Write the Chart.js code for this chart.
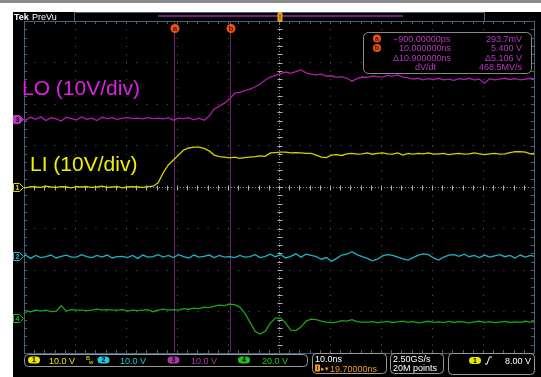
<!DOCTYPE html>
<html>
<head>
<meta charset="utf-8">
<script src="https://cdn.jsdelivr.net/npm/chart.js@4"></script>
<style>
  html, body { margin: 0; padding: 0; background: #fff; overflow: hidden; }
  canvas { display: block; }
</style>
</head>
<body>
<canvas id="scope" width="541" height="377"></canvas>
<script>
// time axis in ns (screen spans -30.3 .. 69.7 ns, 10 ns/div, delay 19.7 ns)
const timeNs = [-31,-30,-29,-28,-27,-26,-25,-24,-23,-22,-21,-20,-19,-18,-17,-16,-15,-14,-13,-12,
  -11,-10,-9,-8,-7,-6,-5,-4,-3,-2,-1,0,1,2,3,4,5,6,7,8,9,10,11,12,13,14,15,16,17,18,19,20,
  21,22,23,24,25,26,27,28,29,30,31,32,33,34,35,36,37,38,39,40,41,42,43,44,45,46,47,48,49,50,
  51,52,53,54,55,56,57,58,59,60,61,62,63,64,65,66,67,68,69,70];
const gridTimes = [-30.3,-20.3,-10.3,-0.3,9.7,19.7,29.7,39.7,49.7,59.7,69.7];
const cursorTimes = [-0.9, 10.0];

// channel 1 (LI), volts
const ch1Volts = [0.1,-0.2,0.1,0,-0.1,0.2,0,-0.1,0.1,0,-0.2,0.1,0,0.1,-0.1,0,0.2,-0.1,0,0.1,
  -0.2,0,0.1,0,-0.1,0.1,
  0.2,1.0,3.4,5.3,6.5,7.7,8.9,9.4,9.6,9.6,9.3,8.7,7.7,7.3,7.2,7.0,7.2,6.9,7.1,7.2,7.3,7.5,7.4,
  8.2,8.3,8.4,8.4,8.2,8.3,8.2,8.1,8.1,7.7,7.2,7.1,7.7,7.8,7.6,8.0,8.1,7.9,8.0,8.2,7.9,8.1,8.2,
  8.0,7.9,8.2,7.7,8.1,
  7.9,8.1,8.0,8.2,7.9,8.0,8.1,7.8,8.0,8.1,7.9,8.0,8.2,8.0,7.8,8.0,8.1,7.9,8.0,8.3,8.5,8.5,8.4,8.0,8.1];
// channel 2, volts
const ch2Volts = [-0.3,0.2,-0.6,0.1,-0.4,-0.2,0.2,-0.5,-0.1,0.2,-0.3,-0.3,0.3,-0.2,-0.4,0.1,-0.3,0.2,
  -0.5,-0.2,-0.1,-0.4,0.1,-0.6,0.2,-0.3,-0.2,0.3,-0.3,0.1,-0.4,0.3,-0.2,-0.5,0.2,-0.3,-0.1,0.2,
  -0.4,0.1,-0.3,-0.2,-0.4,0.1,-0.3,-0.2,0.3,-0.4,-0.1,0.4,-0.2,0.3,-0.5,-0.1,0.5,-0.3,0.4,0.1,
  -0.2,-0.8,-0.4,-1.3,-0.6,0.2,0.4,1.0,0.3,-0.2,-0.6,-1.2,-0.8,0.0,0.3,0.1,-0.3,-0.7,-1.0,-0.4,
  0.2,0.5,0.3,-0.5,-1.0,-0.3,0.2,0.3,-0.1,0.4,-0.2,0.1,-0.4,0.2,-0.3,0.0,0.3,-0.2,0.1,-0.5,0.2,
  -0.3,0.1,-0.2];
// channel 3 (LO), volts
const ch3Volts = [0.3,-0.2,0.5,0,0.6,-0.3,0.4,0.1,-0.4,0.5,0.2,-0.1,0.6,0,0.3,-0.3,0.5,0.2,0.4,0.0,
  0.3,0.4,0.2,0.3,0.1,0.4,0.2,0.3,0.1,0.4,-0.2,0.3,0.2,0.4,-0.1,0.3,-0.2,
  0.8,2.5,3.2,3.9,4.9,6.3,6.5,6.9,7.3,7.8,8.5,9.5,10.2,10.6,11.0,11.4,11.1,11.5,11.9,11.2,10.9,
  10.7,10.9,10.4,10.5,10.1,10.3,9.9,9.2,9.8,10.2,10.1,10.4,10.3,10.2,10.6,10.4,10.7,10.2,
  10.0,9.7,9.9,9.5,9.8,9.6,9.9,9.5,9.7,9.4,9.8,9.6,9.9,9.5,9.7,8.7,9.8,9.5,9.7,9.9,9.6,9.8,9.5,
  9.7,9.9,9.7];
// channel 4, volts
const ch4Volts = [3.4,3.6,3.1,3.9,3.4,3.9,3.1,3.4,6.0,3.4,4.1,3.9,3.9,3.6,3.9,4.3,3.9,4.1,3.9,3.9,
  4.1,3.4,3.9,3.6,3.9,4.1,3.1,3.9,4.3,3.9,4.1,3.9,4.6,4.3,4.8,4.6,5.3,5.1,5.8,6.3,6.0,6.7,6.5,
  5.3,2.4,-1.9,-6.3,-7.7,-6.3,-2.4,0,0,-2.4,-5.8,-6.0,-4.3,-1.4,-0.5,-0.7,-1.4,-1.9,-2.2,-1.9,
  -1.2,-1.4,-0.7,-1.7,-1.9,-1.9,
  -1.7,-2.2,-1.9,-1.6,-2.1,-1.8,-1.4,-2.0,-1.7,-2.3,-1.9,-1.5,-2.0,-1.8,-2.2,-1.6,-2.1,-1.7,-1.9,
  -2.3,-1.8,-1.5,-2.0,-1.7,-2.2,-1.9,-1.6,-2.1,-1.8,-2.0,-1.5,-1.9,-1.7];

const voltsPerDiv = [10, 10, 10, 20];
const groundDiv = [0, -1.66, 1.63, -3.16];
const traceColors = ['#d2d200', '#1ab4c4', '#b01cb0', '#16a816'];

function toDiv(volts, ch) {
  return timeNs.map((t, i) => ({ x: t, y: groundDiv[ch] + volts[i] / voltsPerDiv[ch] }));
}

const FONT = "'Liberation Sans', Arial, sans-serif";

function pill(c, cx, cy, color, num) {
  c.fillStyle = color;
  c.beginPath();
  c.roundRect(cx - 6, cy - 3.5, 12, 7, 3.5);
  c.fill();
  c.fillStyle = '#000';
  c.font = 'bold 7px ' + FONT;
  c.textAlign = 'center';
  c.textBaseline = 'middle';
  c.fillText(num, cx, cy + 0.5);
}

function tag(c, y, color, num, filled) {
  c.beginPath();
  c.moveTo(13.5, y - 4); c.lineTo(19.5, y - 4); c.lineTo(23.5, y);
  c.lineTo(19.5, y + 4); c.lineTo(13.5, y + 4); c.closePath();
  c.fillStyle = filled ? color : '#000';
  c.fill();
  c.strokeStyle = color; c.lineWidth = 1; c.stroke();
  c.fillStyle = filled ? '#000' : color;
  c.font = 'bold 7px ' + FONT;
  c.textAlign = 'center'; c.textBaseline = 'middle';
  c.fillText(num, 17.5, y + 0.5);
}

function box(c, x0, y0, x1, y1, r, color) {
  c.strokeStyle = color; c.lineWidth = 1;
  c.beginPath();
  c.roundRect(x0 + 0.5, y0 + 0.5, x1 - x0, y1 - y0, r);
  c.stroke();
}

const scopePlugin = {
  id: 'scope',
  beforeDraw(chart) {
    const c = chart.ctx;
    c.save();
    c.fillStyle = '#fff'; c.fillRect(0, 0, 541, 377);
    c.fillStyle = '#8c8c8c'; c.fillRect(0, 0, 541, 3);
    c.fillStyle = '#000'; c.fillRect(13, 12, 528, 365);
    c.restore();
  },
  beforeDatasetsDraw(chart) {
    const c = chart.ctx, xs = chart.scales.x, ys = chart.scales.y, a = chart.chartArea;
    c.save();
    const cx = Math.round(xs.getPixelForValue(19.7)) + 0.5;
    const cy = Math.round(ys.getPixelForValue(0)) + 0.5;
    // center crosshair
    c.strokeStyle = '#8a8a8a'; c.lineWidth = 1;
    c.setLineDash([1, 2]);
    c.beginPath();
    c.moveTo(cx, a.top); c.lineTo(cx, a.bottom);
    c.moveTo(a.left, cy); c.lineTo(a.right, cy);
    c.stroke();
    c.setLineDash([]);
    c.strokeStyle = '#b0b0b0';
    c.beginPath();
    for (let k = 0; k <= 40; k++) {
      const y = Math.round(ys.getPixelForValue(-4 + k * 0.2)) + 0.5;
      c.moveTo(cx - 2, y); c.lineTo(cx + 3, y);
    }
    for (let k = 0; k <= 50; k++) {
      const x = Math.round(xs.getPixelForValue(-30.3 + k * 2)) + 0.5;
      c.moveTo(x, cy - 2); c.lineTo(x, cy + 3);
    }
    c.stroke();
    // frame with minor ticks
    c.strokeStyle = '#46627a';
    c.beginPath();
    c.rect(Math.round(a.left) + 0.5, Math.round(a.top) + 0.5, Math.round(a.right - a.left), Math.round(a.bottom - a.top));
    for (let k = 1; k < 40; k++) {
      const y = Math.round(ys.getPixelForValue(-4 + k * 0.2)) + 0.5;
      c.moveTo(a.left, y); c.lineTo(a.left + 3, y);
      c.moveTo(a.right - 3, y); c.lineTo(a.right, y);
    }
    for (let k = 1; k < 50; k++) {
      const x = Math.round(xs.getPixelForValue(-30.3 + k * 2)) + 0.5;
      c.moveTo(x, a.top); c.lineTo(x, a.top + 3);
      c.moveTo(x, a.bottom - 3); c.lineTo(x, a.bottom);
    }
    c.stroke();
    // cursors
    c.strokeStyle = '#701e70';
    c.beginPath();
    cursorTimes.forEach(t => {
      const x = Math.round(xs.getPixelForValue(t)) + 0.5;
      c.moveTo(x, a.top + 1); c.lineTo(x, a.bottom - 1);
    });
    c.stroke();
    c.restore();
  },
  afterDatasetsDraw(chart) {
    const c = chart.ctx, xs = chart.scales.x, a = chart.chartArea;
    c.save();
    // top bar
    c.fillStyle = '#fff';
    c.font = 'bold 9px ' + FONT; c.textAlign = 'left'; c.textBaseline = 'alphabetic';
    c.fillText('Tek', 14, 20);
    c.font = '9px ' + FONT;
    c.fillText('PreVu', 32, 20);
    c.strokeStyle = '#46627a'; c.lineWidth = 1;
    c.strokeRect(74.5, 12.5, 410, 9);
    c.fillStyle = '#7a1a7a'; c.fillRect(158, 15, 245, 2);
    // trigger position marker
    c.fillStyle = '#f0a020';
    c.beginPath(); c.roundRect(277.5, 12, 5, 10, 1.5); c.fill();
    c.fillStyle = '#7a4a00'; c.fillRect(279.5, 14, 1, 6);
    // cursor flags
    ['a', 'b'].forEach((lbl, i) => {
      const x = Math.round(xs.getPixelForValue(cursorTimes[i])) + 0.5;
      c.fillStyle = '#e85418';
      c.beginPath(); c.arc(x + 0.5, 28.5, 4.5, 0, Math.PI * 2); c.fill();
      c.fillStyle = '#5a1400';
      c.font = 'bold 8px ' + FONT; c.textAlign = 'center'; c.textBaseline = 'middle';
      c.fillText(lbl, x + 0.5, 28.5);
    });
    // cursor readout
    c.fillStyle = '#000';
    c.beginPath(); c.roundRect(363.5, 32.5, 168, 41, 5); c.fill();
    box(c, 363, 32, 531, 73, 5, '#8a8a8a');
    ['a', 'b'].forEach((lbl, i) => {
      const y = 38.5 + i * 9.5;
      c.fillStyle = '#e85418';
      c.beginPath(); c.arc(377, y, 4, 0, Math.PI * 2); c.fill();
      c.fillStyle = '#5a1400';
      c.font = 'bold 7px ' + FONT; c.textAlign = 'center'; c.textBaseline = 'middle';
      c.fillText(lbl, 377, y + 0.5);
    });
    c.fillStyle = '#b838c0';
    c.font = '9px ' + FONT; c.textBaseline = 'alphabetic';
    c.textAlign = 'left';
    c.fillText('\u2212900.00000ps', 393, 41.5);
    c.fillText('10.000000ns', 399, 51);
    c.fillText('\u039410.900000ns', 393, 60.5);
    c.fillText('dV/dt', 415, 70);
    c.textAlign = 'right';
    c.fillText('293.7mV', 522, 41.5);
    c.fillText('5.400 V', 522, 51);
    c.fillText('\u03945.106 V', 522, 60.5);
    c.fillText('468.5MV/s', 522, 70);
    // trace labels
    c.textAlign = 'left';
    c.font = '21px ' + FONT;
    c.fillStyle = '#e020e0';
    c.fillText('LO (10V/div)', 22, 95);
    c.fillStyle = '#f0f000';
    c.fillText('LI (10V/div)', 30, 171);
    // channel ground markers
    const ys = chart.scales.y;
    tag(c, Math.round(ys.getPixelForValue(groundDiv[2])) + 0.5, '#c030c0', '3', true);
    tag(c, Math.round(ys.getPixelForValue(groundDiv[0])) + 0.5, '#e0e000', '1', false);
    tag(c, Math.round(ys.getPixelForValue(groundDiv[1])) + 0.5, '#20c0d0', '2', false);
    tag(c, Math.round(ys.getPixelForValue(groundDiv[3])) + 0.5, '#20b020', '4', false);
    // status bar
    box(c, 24, 354, 307, 366, 4, '#9a9a9a');
    box(c, 312, 353, 386, 373, 4, '#9a9a9a');
    box(c, 390, 353, 443, 373, 4, '#9a9a9a');
    box(c, 448, 353, 534, 374, 4, '#9a9a9a');
    const chanText = [['1', '10.0 V', '#e8e800', 34, 49], ['2', '10.0 V', '#20c8d8', 103.5, 120],
      ['3', '10.0 V', '#a838a8', 173.5, 191], ['4', '20.0 V', '#20c020', 244, 262]];
    chanText.forEach(([n, s, col, px, tx]) => {
      pill(c, px, 360, col, n);
      c.fillStyle = col; c.font = '9px ' + FONT;
      c.textAlign = 'left'; c.textBaseline = 'alphabetic';
      c.fillText(s, tx, 363.5);
    });
    c.fillStyle = '#e8e800'; c.font = '6px ' + FONT;
    c.fillText('B', 86, 360); c.fillText('w', 89, 364);
    c.fillStyle = '#fff'; c.font = '9px ' + FONT;
    c.fillText('10.0ns', 315, 362);
    c.fillText('2.50GS/s', 393, 362);
    c.fillText('20M points', 393, 371);
    c.fillStyle = '#f09a20';
    c.fillRect(315, 364.5, 5, 7);
    c.fillStyle = '#5a3000'; c.fillRect(317, 366, 1, 4);
    c.fillStyle = '#f09a20';
    c.font = '7px ' + FONT; c.fillText('\u25B8\u25BE', 320.5, 370.5);
    c.font = '9px ' + FONT; c.fillText('19.70000ns', 330, 371.5);
    pill(c, 475, 360.5, '#e8e800', '1');
    c.strokeStyle = '#fff'; c.lineWidth = 1;
    c.beginPath(); c.moveTo(485, 364); c.lineTo(487, 364); c.lineTo(489.5, 357); c.lineTo(492, 357); c.stroke();
    c.fillStyle = '#fff';
    c.font = '9px ' + FONT;
    c.textAlign = 'right'; c.textBaseline = 'alphabetic';
    c.fillText('8.00 V', 531, 364);
    c.restore();
  }
};

const traceNames = ['CH1 LI', 'CH2', 'CH3 LO', 'CH4'];
const voltsByChannel = [ch1Volts, ch2Volts, ch3Volts, ch4Volts];

new Chart(document.getElementById('scope'), {
  type: 'line',
  data: {
    datasets: voltsByChannel.map((v, ch) => ({
      label: traceNames[ch],
      data: toDiv(v, ch),
      borderColor: traceColors[ch],
      borderWidth: 1.3,
      pointRadius: 0,
      tension: 0,
      fill: false
    }))
  },
  options: {
    responsive: false,
    animation: false,
    events: [],
    layout: { padding: { left: 24, top: 21, right: 7, bottom: 24 } },
    plugins: { legend: { display: false }, tooltip: { enabled: false } },
    scales: {
      x: {
        type: 'linear',
        min: -30.3,
        max: 69.7,
        afterBuildTicks: s => { s.ticks = gridTimes.map(v => ({ value: v })); },
        ticks: { display: false },
        grid: { color: '#5a5a5a', lineWidth: 1, drawTicks: false },
        border: { display: false, dash: [1, 7.3] }
      },
      y: {
        type: 'linear',
        min: -4,
        max: 4,
        ticks: { display: false, stepSize: 1 },
        grid: { color: '#5a5a5a', lineWidth: 1, drawTicks: false },
        border: { display: false, dash: [1, 9.2] }
      }
    }
  },
  plugins: [scopePlugin]
});
</script>
</body>
</html>
